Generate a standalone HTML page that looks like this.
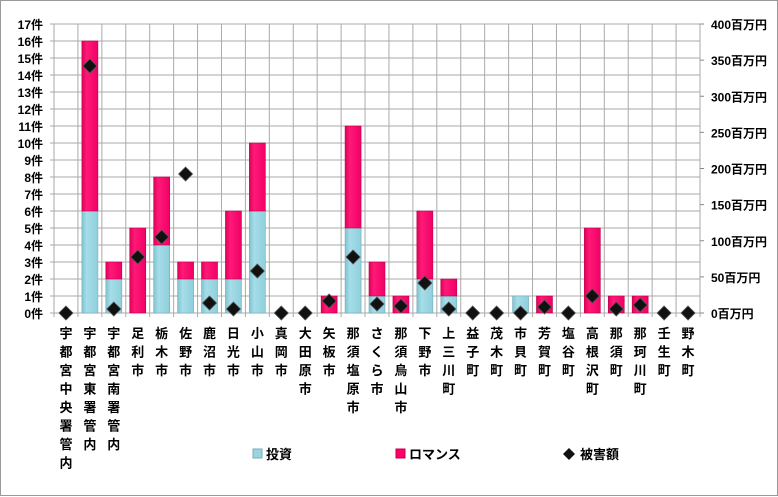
<!DOCTYPE html>
<html><head><meta charset="utf-8"><style>
body{margin:0;background:#fff}
svg{display:block;font-family:"Liberation Sans","Noto Sans CJK JP",sans-serif;font-weight:bold}
</style></head><body>
<svg width="778" height="497" xmlns="http://www.w3.org/2000/svg">
<defs>
<linearGradient id="b" x1="0" x2="1"><stop offset="0" stop-color="#7fc4d2"/><stop offset="0.3" stop-color="#a6dde8"/><stop offset="1" stop-color="#8ecfdc"/></linearGradient>
<linearGradient id="p" x1="0" x2="1"><stop offset="0" stop-color="#e0005a"/><stop offset="0.3" stop-color="#ff1a77"/><stop offset="1" stop-color="#f00066"/></linearGradient>
</defs>
<rect x="0.5" y="0.5" width="777" height="495" fill="#fff" stroke="#999"/>
<g id="g"></g>
</svg>
<script>
const s=document.querySelector('svg'),g=document.getElementById('g');
const NS='http://www.w3.org/2000/svg';
function el(t,a,txt){const e=document.createElementNS(NS,t);for(const k in a)e.setAttribute(k,a[k]);if(txt!==undefined)e.textContent=txt;g.appendChild(e);return e;}
const L=54,R=700,T=24,B=313,U=17,n=27,w=(R-L)/n;
for(let i=0;i<=17;i++){const y=B-i*U;el('line',{x1:50,x2:R,y1:y,y2:y,stroke:'#aaa','stroke-width':1});
el('text',{x:43,y:y+5,'font-size':12,'text-anchor':'end',fill:'#000'},i+'件');}
for(let i=0;i<=n;i++){const x=L+i*w;el('line',{x1:x,x2:x,y1:T,y2:B+4,stroke:'#aaa','stroke-width':1});}
for(let i=0;i<=8;i++){const y=B-i*(B-T)/8;el('line',{x1:R,x2:R+4,y1:y,y2:y,stroke:'#888'});
el('text',{x:711,y:y+5,'font-size':12,fill:'#000'},(i*50)+'百万円');}
const blue=[0,6,2,0,4,2,2,2,6,0,0,0,5,1,0,2,1,0,0,1,0,0,0,0,0,0,0];
const pink=[0,10,1,5,4,1,1,4,4,0,0,1,6,2,1,4,1,0,0,0,1,0,5,1,1,0,0];
const dy=[313,66,309,257,237,174,303,309,271,313,313,301,257,304,306,283,309,313,313,313,307,313,296,309,305,313,313];
const names=['宇都宮中央署管内','宇都宮東署管内','宇都宮南署管内','足利市','栃木市','佐野市','鹿沼市','日光市','小山市','真岡市','大田原市','矢板市','那須塩原市','さくら市','那須烏山市','下野市','上三川町','益子町','茂木町','市貝町','芳賀町','塩谷町','高根沢町','那須町','那珂川町','壬生町','野木町'];
for(let i=0;i<n;i++){const cx=L+(i+0.5)*w,bx=cx-8;
if(blue[i])el('rect',{x:bx,y:B-blue[i]*U,width:16,height:blue[i]*U,fill:'url(#b)',stroke:'#7aaab5','stroke-width':0.6});
if(pink[i])el('rect',{x:bx,y:B-(blue[i]+pink[i])*U,width:16,height:pink[i]*U,fill:'url(#p)',stroke:'#c0004a','stroke-width':0.6});
const y=dy[i];el('path',{d:`M${cx} ${y-7}L${cx+7} ${y}L${cx} ${y+7}L${cx-7} ${y}Z`,fill:'#111',stroke:'#555','stroke-width':0.8});
[...names[i]].forEach((c,k)=>el('text',{x:cx,y:338+k*18.5,'font-size':13,'text-anchor':'middle',fill:'#000'},c));}
el('rect',{x:253,y:449,width:9,height:9,fill:'#99d5e0',stroke:'#7aaab5'});
el('text',{x:266,y:459,'font-size':13,fill:'#000'},'投資');
el('rect',{x:396,y:449,width:9,height:9,fill:'#ff0066',stroke:'#c0004a'});
el('text',{x:409,y:459,'font-size':13,fill:'#000'},'ロマンス');
el('path',{d:'M569 448L575 454L569 460L563 454Z',fill:'#111'});
el('text',{x:580,y:459,'font-size':13,fill:'#000'},'被害額');
</script>
</body></html>
